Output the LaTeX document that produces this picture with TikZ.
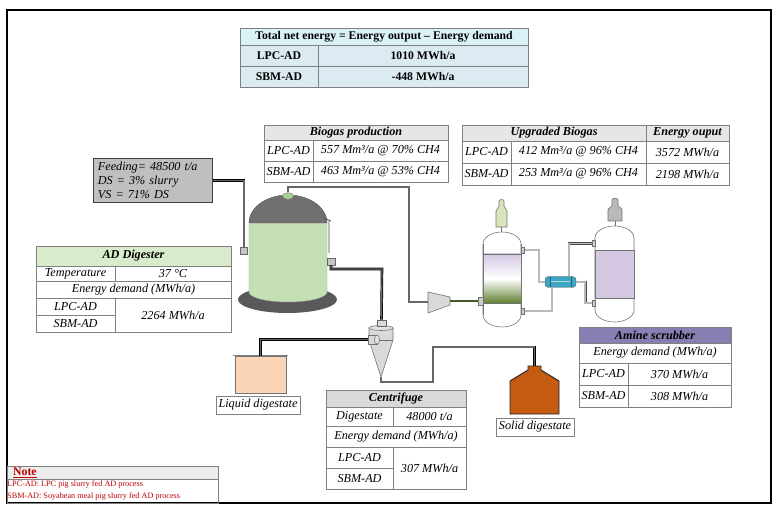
\documentclass[tikz,border=0pt]{standalone}
\usepackage{fontspec}
\setmainfont{Liberation Serif}
\usetikzlibrary{calc, positioning, shapes.geometric}
\definecolor{netcyan}{RGB}{218, 242, 246}
\definecolor{netblue}{RGB}{220, 234, 241}
\definecolor{headgray}{RGB}{230, 230, 230}
\definecolor{feedgray}{RGB}{191, 191, 191}
\definecolor{adgreen}{RGB}{216, 235, 203}
\definecolor{aminepurple}{RGB}{134, 127, 178}
\definecolor{cengray}{RGB}{217, 217, 217}
\definecolor{notered}{RGB}{192, 0, 0}
\definecolor{liqpeach}{RGB}{251, 213, 181}
\definecolor{solidorange}{RGB}{197, 90, 17}
\definecolor{digreen}{RGB}{197, 224, 180}
\definecolor{nozzlegreen}{RGB}{169, 209, 142}
\definecolor{domegray}{RGB}{112, 112, 112}
\definecolor{basegray}{RGB}{89, 89, 89}
\definecolor{lavender}{RGB}{212, 200, 226}
\definecolor{olivegreen}{RGB}{96, 128, 48}
\definecolor{bottlegreen}{RGB}{216, 228, 188}
\definecolor{hxteal}{RGB}{60, 165, 195}

% one table cell: name, corners, fill, text
\newcommand{\tcell}[7]{%
  \draw[cellline, fill=#6] (#2,#3) rectangle (#4,#5);
  \node[inner sep=0pt] (#1) at ($(#2,#3)!0.5!(#4,#5)$) {#7};}

\begin{document}
\begin{tikzpicture}[x=0.03cm, y=-0.03cm,
    cellline/.style={draw=black!50, line width=0.6pt},
    tabfont/.style={font=\fontsize{10.4}{12}\selectfont\itshape},
    darkpipe/.style={draw=black, line width=0.6pt, double=black!60, double distance=1pt},
    gaspipe/.style={draw=black!70, line width=0.45pt, double=gray!55, double distance=1.3pt},
    unit/.style={draw=black!55, line width=0.5pt},
    port/.style={draw=black!60, fill=gray!45, inner sep=0pt, line width=0.5pt}]
  \useasboundingbox[fill=white] (0,0) rectangle (778,513);

  % Frame
  \draw[line width=1.5pt] (7,10) rectangle (771,503);

  % Net energy
  \begin{scope}[font=\fontsize{10}{12}\selectfont\bfseries]
    \tcell{nethead}{240}{28}{528}{45}{netcyan}{Total net energy = Energy output -- Energy demand}
    \tcell{netlpc}{240}{45}{318}{66}{netblue}{LPC-AD}
    \tcell{netlpcval}{318}{45}{528}{66}{netblue}{1010 MWh/a}
    \tcell{netsbm}{240}{66}{318}{87}{netblue}{SBM-AD}
    \tcell{netsbmval}{318}{66}{528}{87}{netblue}{-448 MWh/a}
  \end{scope}

  \begin{scope}[tabfont]
    % Biogas production
    \tcell{bghead}{264}{125}{448}{140}{headgray}{\bfseries Biogas production}
    \tcell{bglpc}{264}{140}{313}{161}{white}{LPC-AD}
    \tcell{bglpcval}{313}{140}{448}{161}{white}{557 Mm³/a @ 70\% CH4}
    \tcell{bgsbm}{264}{161}{313}{182}{white}{SBM-AD}
    \tcell{bgsbmval}{313}{161}{448}{182}{white}{463 Mm³/a @ 53\% CH4}

    % Upgraded biogas
    \tcell{upghead}{462}{125}{646}{141}{headgray}{\bfseries Upgraded Biogas}
    \tcell{enghead}{646}{125}{729}{141}{headgray}{\bfseries Energy ouput}
    \tcell{upglpc}{462}{141}{511}{163}{white}{LPC-AD}
    \tcell{upglpcval}{511}{141}{646}{163}{white}{412 Mm³/a @ 96\% CH4}
    \tcell{englpc}{646}{141}{729}{163}{white}{3572 MWh/a}
    \tcell{upgsbm}{462}{163}{511}{185}{white}{SBM-AD}
    \tcell{upgsbmval}{511}{163}{646}{185}{white}{253 Mm³/a @ 96\% CH4}
    \tcell{engsbm}{646}{163}{729}{185}{white}{2198 MWh/a}

    % Feeding
    \node[draw=black!75, fill=feedgray, line width=0.7pt, anchor=north west, minimum width=3.57cm,
      minimum height=1.32cm, text width=3.3cm, inner sep=0pt, align=left] (feed) at (93,158)
      {Feeding= 48500 t/a\\DS = 3\% slurry\\VS = 71\% DS};

    % AD digester
    \tcell{adhead}{36}{246}{231}{266}{adgreen}{\bfseries AD Digester}
    \tcell{adtemp}{36}{266}{115}{281}{white}{Temperature}
    \tcell{adtempval}{115}{266}{231}{281}{white}{37 °C}
    \tcell{aden}{36}{281}{231}{298}{white}{Energy demand (MWh/a)}
    \tcell{adlpc}{36}{298}{115}{315}{white}{LPC-AD}
    \tcell{adsbm}{36}{315}{115}{332}{white}{SBM-AD}
    \tcell{adval}{115}{298}{231}{332}{white}{2264 MWh/a}

    % Amine scrubber
    \tcell{amhead}{579}{327}{731}{343}{aminepurple}{\bfseries Amine scrubber}
    \tcell{amen}{579}{343}{731}{363}{white}{Energy demand (MWh/a)}
    \tcell{amlpc}{579}{363}{628}{385}{white}{LPC-AD}
    \tcell{amlpcval}{628}{363}{731}{385}{white}{370 MWh/a}
    \tcell{amsbm}{579}{385}{628}{407}{white}{SBM-AD}
    \tcell{amsbmval}{628}{385}{731}{407}{white}{308 MWh/a}

    % Centrifuge
    \tcell{cfhead}{326}{390}{466}{407}{cengray}{\bfseries Centrifuge}
    \tcell{cfdig}{326}{407}{393}{426}{white}{Digestate}
    \tcell{cfdigval}{393}{407}{466}{426}{white}{48000 t/a}
    \tcell{cfen}{326}{426}{466}{447}{white}{Energy demand (MWh/a)}
    \tcell{cflpc}{326}{447}{393}{468}{white}{LPC-AD}
    \tcell{cfsbm}{326}{468}{393}{489}{white}{SBM-AD}
    \tcell{cfval}{393}{447}{466}{489}{white}{307 MWh/a}

    % Digestate labels
    \tcell{liqlabel}{216}{396}{300}{414}{white}{Liquid digestate}
    \tcell{sollabel}{496}{418}{574}{436}{white}{Solid digestate}
  \end{scope}

  % Note
  \draw[cellline, fill=headgray!70] (7,466) rectangle (218,479);
  \draw[cellline] (7,479) rectangle (218,503);
  \node[anchor=west, inner sep=0pt, text=notered, font=\fontsize{10}{12}\selectfont\bfseries] (note) at (13,472.5) {\underline{Note}};
  \node[anchor=north west, inner sep=0pt, align=left, text=notered, font=\fontsize{7}{11}\selectfont] (notetext) at (7,480)
    {LPC-AD: LPC pig slurry fed AD process\\SBM-AD: Soyabean meal pig slurry fed AD process};

  % Digester
  \fill[basegray] (287.5,299.5) ellipse [x radius=49.5, y radius=13.5];
  \filldraw[fill=digreen, draw=gray!70] (249,223) -- (249,292) arc[start angle=180, end angle=0, x radius=39, y radius=10] -- (327,223) -- cycle;
  \filldraw[fill=domegray, draw=domegray!80!black] (249,223) arc[start angle=180, end angle=360, x radius=39, y radius=28] -- cycle;
  \draw[black!70, line width=0.6pt] (324,218) -- (331,221) (329,221) -- (329,253);
  \node[ellipse, draw=black!50, fill=nozzlegreen, inner sep=0pt, minimum width=0.33cm, minimum height=0.2cm] (nozzle) at (288,196) {};
  \node[port, minimum width=0.2cm, minimum height=0.21cm] (digin) at (244,250.5) {};
  \node[port, minimum width=0.24cm, minimum height=0.21cm] (digout) at (331,261.5) {};

  % Centrifuge (cyclone)
  \filldraw[unit, fill=cengray] (369,328) -- (369,340) -- (381,377) -- (393,340) -- (393,328) -- cycle;
  \draw[unit] (369,340) -- (393,340);
  \filldraw[unit, fill=cengray!80] (381,328) ellipse [x radius=12, y radius=2.5];
  \filldraw[unit, fill=cengray] (368,335) rectangle (377,344);
  \filldraw[unit, fill=cengray!70] (377,339.5) ellipse [x radius=2.5, y radius=4.5];
  \node[port, fill=cengray, minimum width=0.27cm, minimum height=0.18cm] (cyctop) at (381.5,323) {};
  \coordinate (cycin) at (368,339.5);
  \coordinate (cycbot) at (381,377);

  % Liquid and solid digestate
  \node[draw=black!55, fill=liqpeach, line width=0.6pt, minimum width=1.53cm, minimum height=1.11cm] (liqtank) at (260.5,374.5) {};
  \draw[gray, line width=1.2pt] (liqtank.north west) ++(-2,0) -- ([xshift=0.06cm]liqtank.north east);
  \filldraw[fill=solidorange, draw=black!85, line width=0.8pt] (510,414) -- (510,381) -- (528,370) -- (528,366) -- (541,366) -- (541,370) -- (559,381) -- (559,414) -- cycle;
  \coordinate (soltank) at (534.5,366);

  % Compressor
  \filldraw[unit, fill=cengray] (428,292) -- (450,297) -- (450,305) -- (428,313) -- cycle;
  \coordinate (compin) at (428,302);
  \coordinate (compout) at (450,301);
  \coordinate (col1in) at (479,301);

  % Column 1 (absorber)
  \filldraw[unit, fill=white] (483,244) arc[start angle=180, end angle=360, x radius=19, y radius=12] -- (521,315) arc[start angle=0, end angle=180, x radius=19, y radius=12] -- cycle;
  \shade[top color=lavender, bottom color=white] (483,254) rectangle (521,279);
  \shade[top color=white, bottom color=olivegreen] (483,279) rectangle (521,303);
  \draw[unit] (483,254) -- (521,254) (483,303) -- (521,303) (483,244) -- (483,315) (521,244) -- (521,315);
  \filldraw[unit, fill=bottlegreen] (496,227) -- (496,211) to[out=90, in=-90] (499,206) -- (499,201) to[out=90, in=90] (504,201) -- (504,206) to[out=-90, in=90] (507,211) -- (507,227) -- cycle;
  \draw[unit] (501.5,227) -- (501.5,232);

  % Column 2 (stripper)
  \filldraw[unit, fill=white] (595,238) arc[start angle=180, end angle=360, x radius=19.5, y radius=12] -- (634,310) arc[start angle=0, end angle=180, x radius=19.5, y radius=12] -- cycle;
  \filldraw[unit, fill=lavender] (595,250) rectangle (634,298);
  \filldraw[unit, fill=gray!55] (608,221) -- (608,210) to[out=90, in=-90] (612,205) -- (612,200) to[out=90, in=90] (618,200) -- (618,205) to[out=-90, in=90] (622,210) -- (622,221) -- cycle;
  \draw[unit] (615,221) -- (615,226);

  % Heat exchanger
  \node[draw=black!60, fill=hxteal, rounded corners=3pt, inner sep=0pt, minimum width=0.93cm, minimum height=0.33cm] (hx) at (560.5,282) {};
  \foreach \x in {550,571} \draw[hxteal!60!black] (\x,277) -- (\x,287);
  \draw[hxteal!40!white, line width=0.5pt] (551,281) -- (570,281);

  % Column ports
  \coordinate (col1out1) at (521,250);
  \coordinate (col1out2) at (521,311);
  \coordinate (col2in1) at (595,243.5);
  \coordinate (col2in2) at (595,303);
  \coordinate (gasbend) at (409,187);
  \coordinate (digbend) at (382,269);
  \coordinate (solbend) at (433,347);

  % Pipes
  \draw[darkpipe] (feed.east) -| (digin.north);
  \draw[darkpipe] (nozzle.north) |- (gasbend) |- (compin);
  \draw[darkpipe] (digout.south) |- (digbend) -- (cyctop.north);
  \draw[darkpipe] (cycin) -| (liqtank.north);
  \draw[darkpipe] (cycbot) -- ++(0,5) -| (solbend) -| (soltank);
  \draw[olivegreen!70!black, line width=2.2pt] (compout) -- (col1in);
  \filldraw[unit, fill=gray!40] (478,297) rectangle (483,305);
  \draw[gaspipe] (col1out1) -- ++(18,0) |- (hx.west);
  \draw[gaspipe] (col1out2) -| ($(hx.south)+(-8.5,0)$);
  \draw[gaspipe] ($(hx.north)+(8.5,0)$) |- (col2in1);
  \draw[gaspipe] (hx.east) -- ++(9,0) |- (col2in2);
  \foreach \p in {col2in1, col2in2} \filldraw[unit, fill=gray!40] ($(\p)+(-3,-3)$) rectangle ($(\p)+(0,3)$);
  \foreach \p in {col1out1, col1out2} \filldraw[unit, fill=gray!40] ($(\p)+(0,-3)$) rectangle ($(\p)+(3,3)$);
\end{tikzpicture}
\end{document}
